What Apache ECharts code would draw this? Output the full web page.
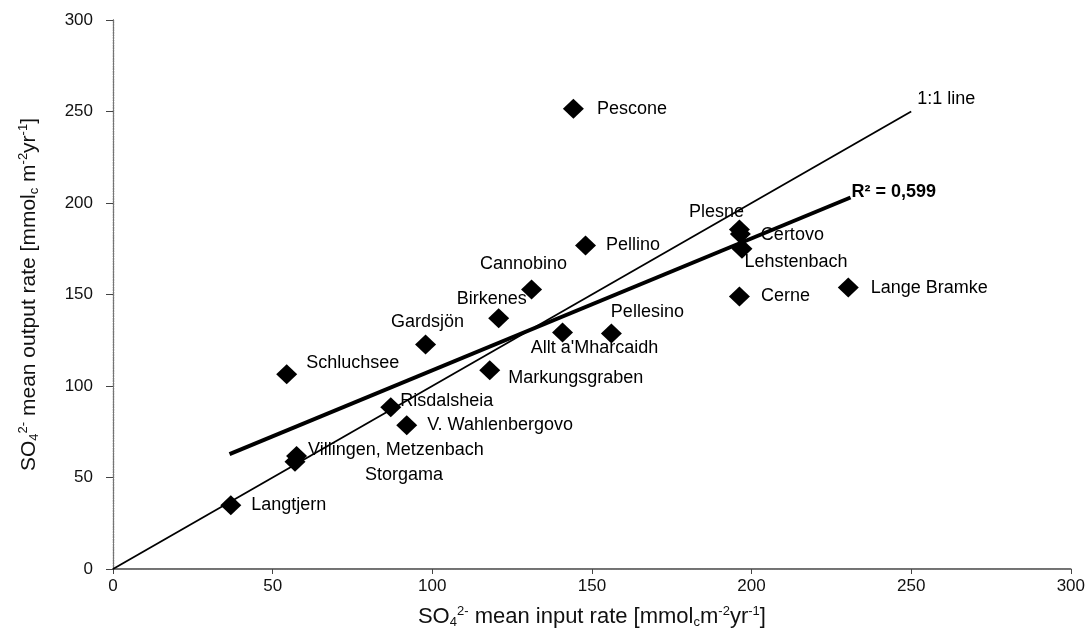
<!DOCTYPE html>
<html>
<head>
<meta charset="utf-8">
<script src="https://cdn.jsdelivr.net/npm/echarts@6/dist/echarts.min.js"></script>
<style>html,body{margin:0;padding:0;background:#fff;}#c{width:1088px;height:634px;}</style>
</head>
<body>
<div id="c"></div>
<script>
// ---- data ----
const siteNames = ["Pescone","Plesne","Certovo","Lehstenbach","Cerne","Lange Bramke","Pellino","Cannobino","Birkenes","Gardsjön","Schluchsee","Pellesino","Allt a'Mharcaidh","Markungsgraben","Risdalsheia","V. Wahlenbergovo","Villingen, Metzenbach","Storgama","Langtjern"];
const inputRate  = [144.2, 196.2, 196.5, 197.0, 196.2, 230.3, 148.0, 131.1, 120.8, 97.9, 54.4, 156.1, 140.8, 118.0, 87.0, 92.0, 57.5, 57.0, 36.9];
const outputRate = [251.5, 185.5, 183.0, 175.0, 148.9, 153.8, 176.8, 152.8, 137.0, 122.7, 106.4, 128.7, 129.3, 108.6, 88.4, 78.6, 61.8, 58.6, 34.9];
const oneToOneLine = [[0, 0], [250, 250]];
const regressionLine = [[36.5, 62.8], [231, 203]];
const axisTicks = [0, 50, 100, 150, 200, 250, 300];

// ---- label layout (pixel offsets, not data) ----
const labelLayout = {
  "Pescone": ['right', [8, 0]],
  "Plesne": ['inside', [-23, -18]],
  "Certovo": ['right', [5, 1]],
  "Lehstenbach": ['inside', [54, 13]],
  "Cerne": ['right', [6, 0]],
  "Lange Bramke": ['right', [7, 0]],
  "Pellino": ['right', [5, 0]],
  "Cannobino": ['inside', [-8, -25]],
  "Birkenes": ['inside', [-7, -19]],
  "Gardsjön": ['inside', [2, -22]],
  "Schluchsee": ['right', [4, -11]],
  "Pellesino": ['inside', [36, -21]],
  "Allt a'Mharcaidh": ['inside', [32, 16]],
  "Markungsgraben": ['right', [3, 8]],
  "Risdalsheia": ['right', [-6, -6]],
  "V. Wahlenbergovo": ['right', [5, 0]],
  "Villingen, Metzenbach": ['right', [-4, -6]],
  "Storgama": ['inside', [109, 13]],
  "Langtjern": ['right', [5, 0]]
};

const FONT = '"Liberation Sans", Arial, sans-serif';
const INK = '#000';

const scatterData = siteNames.map((n, i) => {
  const lay = labelLayout[n];
  return {
    value: [inputRate[i], outputRate[i]],
    name: n,
    label: { show: true, position: lay[0], offset: lay[1], formatter: n }
  };
});

const richAxis = {
  sub: { fontSize: 13, fontFamily: FONT, color: '#111', padding: [11, 0, 0, 0] },
  sup: { fontSize: 13, fontFamily: FONT, color: '#111', padding: [0, 0, 11, 0] }
};

const chart = echarts.init(document.getElementById('c'), null, { renderer: 'canvas' });
chart.setOption({
  backgroundColor: '#fff',
  animation: false,
  grid: { left: 113, right: 16, top: 20, bottom: 64, show: false },
  xAxis: [{
    type: 'value', min: 0, max: 300, interval: 50,
    axisLine: { show: true, lineStyle: { color: '#444', width: 1.5 } },
    axisTick: { show: true, inside: false, length: 5, lineStyle: { color: '#444' } },
    splitLine: { show: false },
    axisLabel: { color: '#111', fontSize: 17, fontFamily: FONT, margin: 9 },
    name: 'SO{sub|4}{sup|2-} mean input rate [mmol{sub|c}m{sup|-2}yr{sup|-1}]',
    nameLocation: 'middle', nameGap: 36,
    nameTextStyle: { color: '#111', fontSize: 22, fontFamily: FONT, rich: richAxis }
  }, {
    type: 'value', min: 0, max: 300, position: 'top',
    axisLine: { show: true, lineStyle: { color: '#777', width: 1.2, type: 'dotted' } },
    axisTick: { show: false }, axisLabel: { show: false }, splitLine: { show: false }
  }],
  yAxis: [{
    type: 'value', min: 0, max: 300, interval: 50,
    axisLine: { show: true, lineStyle: { color: '#555', width: 1.3, type: 'dotted' } },
    axisTick: { show: true, inside: false, length: 7, lineStyle: { color: '#444' } },
    splitLine: { show: false },
    axisLabel: { color: '#111', fontSize: 17, fontFamily: FONT, margin: 20 },
    name: 'SO{sub|4}{sup|2-} mean output rate [mmol{sub|c} m{sup|-2}yr{sup|-1}]',
    nameLocation: 'middle', nameGap: 72, nameRotate: 90,
    nameTextStyle: { color: '#111', fontSize: 21, fontFamily: FONT, rich: richAxis }
  }, {
    type: 'value', min: 0, max: 300, position: 'right',
    axisLine: { show: true, lineStyle: { color: '#777', width: 1.2, type: 'dotted' } },
    axisTick: { show: false }, axisLabel: { show: false }, splitLine: { show: false }
  }],
  series: [
    {
      type: 'line', data: oneToOneLine,
      showSymbol: false, symbol: 'none', silent: true,
      lineStyle: { color: INK, width: 1.8 }, z: 2,
      endLabel: { show: true, formatter: '1:1 line', offset: [-2, -12], color: '#000', fontSize: 18, fontFamily: FONT }
    },
    {
      type: 'line', data: regressionLine,
      showSymbol: false, symbol: 'none', silent: true,
      lineStyle: { color: INK, width: 4 }, z: 2,
      endLabel: { show: true, formatter: 'R² = 0,599', offset: [-7, -5], color: '#000', fontSize: 18, fontWeight: 'bold', fontFamily: FONT }
    },
    {
      type: 'scatter', data: scatterData,
      symbol: 'diamond', symbolSize: [21, 20],
      itemStyle: { color: INK, opacity: 1 },
      label: { color: '#000', fontSize: 18, fontFamily: FONT },
      z: 3
    }
  ]
});
</script>
</body>
</html>
